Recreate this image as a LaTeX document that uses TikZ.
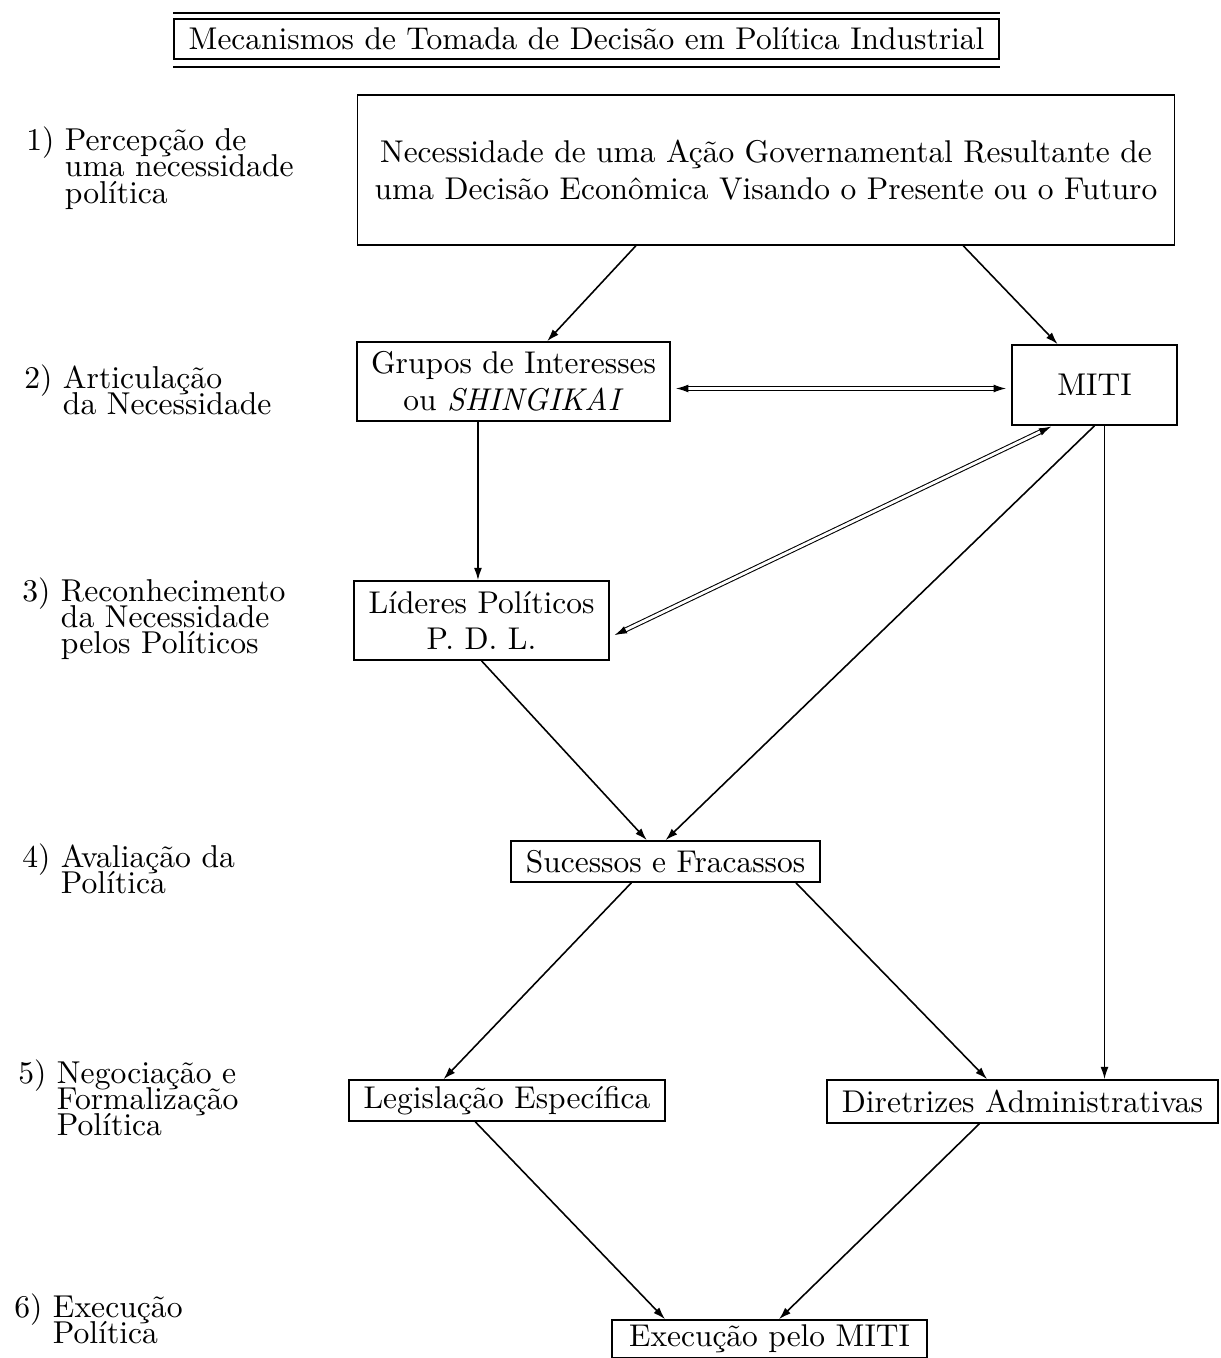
\documentclass[tikz,border=0pt]{standalone}
\usepackage{fontspec}
\setmainfont{lmroman10-regular.otf}[ItalicFont=lmroman10-italic.otf]
\usetikzlibrary{calc,arrows.meta}
\def\etapa(#1)#2#3#4{\node[etapa, anchor=base west] (#2) at (#1) {#3~\parbox[t]{6cm}{\lineskiplimit=-50pt #4}};}

\begin{document}
\begin{tikzpicture}[x=0.02cm, y=-0.02cm, >={Latex[length=7pt,width=4.5pt]},
	caixa/.style={draw, line width=0.9pt, inner sep=0pt, align=center, font=\fontsize{17.9}{21}\selectfont},
	etapa/.style={inner sep=0pt, align=left, font=\fontsize{18}{14.8}\selectfont},
	seta/.style={->, line width=0.9pt},
	dupla/.style={<->, double, double distance=1.6pt, line width=0.6pt}]
		%%%%% START %%%%%
		\useasboundingbox (0, 0) rectangle (1220, 1358);
		
		\node[caixa, minimum width=16.5cm, minimum height=0.8cm] (titulo) at (586.5, 39) {Mecanismos de Tomada de Decisão em Política Industrial};
		\draw[line width=0.9pt] ($(titulo.north west)+(0,-5)$) -- ($(titulo.north east)+(0,-5)$);
		\draw[line width=0.9pt] ($(titulo.south west)+(0,7)$) -- ($(titulo.south east)+(0,7)$);
		
		% etapas
		\etapa(26, 151){et1}{1)}{Percepção de\\uma necessidade\\política}
		\etapa(24, 388){et2}{2)}{Articulação\\da Necessidade}
		\etapa(22, 601){et3}{3)}{Reconhecimento\\da Necessidade\\pelos Políticos}
		\etapa(22, 867){et4}{4)}{Avaliação da\\Política}
		\etapa(18, 1083){et5}{5)}{Negociação e\\Formalização\\Política}
		\etapa(14, 1317){et6}{6)}{Execução\\Política}
		
		% caixas
		\node[caixa, minimum width=16.34cm, minimum height=3cm] (necess) at (766, 170) {Necessidade de uma Ação Governamental Resultante de\\uma Decisão Econômica Visando o Presente ou o Futuro};
		\node[caixa, minimum width=6.26cm, minimum height=1.58cm] (grupos) at (513.5, 381.5) {Grupos de Interesses\\ou \textit{SHINGIKAI}};
		\node[caixa, minimum width=3.3cm, minimum height=1.6cm] (miti) at (1094.5, 385) {MITI};
		\node[caixa, minimum width=5.1cm, minimum height=1.58cm] (lideres) at (481.5, 620.5) {Líderes Políticos\\P. D. L.};
		\node[caixa, minimum width=6.18cm, minimum height=0.82cm] (sucessos) at (665.5, 861.5) {Sucessos e Fracassos};
		\node[caixa, minimum width=6.32cm, minimum height=0.82cm] (legis) at (507, 1100.5) {Legislação Específica};
		\node[caixa, minimum width=7.82cm, minimum height=0.86cm] (diretrizes) at (1022.5, 1101.5) {Diretrizes Administrativas};
		\node[caixa, minimum width=6.3cm, minimum height=0.76cm] (execucao) at (769.5, 1339) {Execução pelo MITI};
		
		% setas
		\draw[seta] ($(necess.south west)!.341!(necess.south east)$) -- ($(grupos.north west)!.607!(grupos.north east)$);
		\draw[seta] ($(necess.south west)!.741!(necess.south east)$) -- ($(miti.north west)!.279!(miti.north east)$);
		
		\coordinate (g1) at ($(grupos.south west)!.387!(grupos.south east)$);
		\draw[seta] (g1) -- (g1 |- lideres.north);
		
		\coordinate (gm) at ($(grupos.east)+(0,7)$);
		\draw[dupla, shorten <=3pt, shorten >=3pt] (gm) -- (gm -| miti.west);
		\draw[dupla, shorten <=1pt, shorten >=3pt] ($(miti.south west)!.25!(miti.south east)$) -- ($(lideres.north east)!.71!(lideres.south east)$);
		
		\draw[seta] (miti.south) -- (sucessos.north);
		\coordinate (m1) at ($(miti.south west)!.56!(miti.south east)$);
		\draw[seta] (m1) -- (m1 |- diretrizes.north);
		
		\draw[seta] (lideres.south) -- ($(sucessos.north west)!.44!(sucessos.north east)$);
		\draw[seta] ($(sucessos.south west)!.39!(sucessos.south east)$) -- ($(legis.north west)!.3!(legis.north east)$);
		\draw[seta] ($(sucessos.south west)!.92!(sucessos.south east)$) -- ($(diretrizes.north west)!.41!(diretrizes.north east)$);
		
		\draw[seta] ($(legis.south west)!.4!(legis.south east)$) -- ($(execucao.north west)!.17!(execucao.north east)$);
		\draw[seta] ($(diretrizes.south west)!.39!(diretrizes.south east)$) -- ($(execucao.north west)!.53!(execucao.north east)$);
		
		%%%%% END %%%%%
	\end{tikzpicture}
\end{document}
